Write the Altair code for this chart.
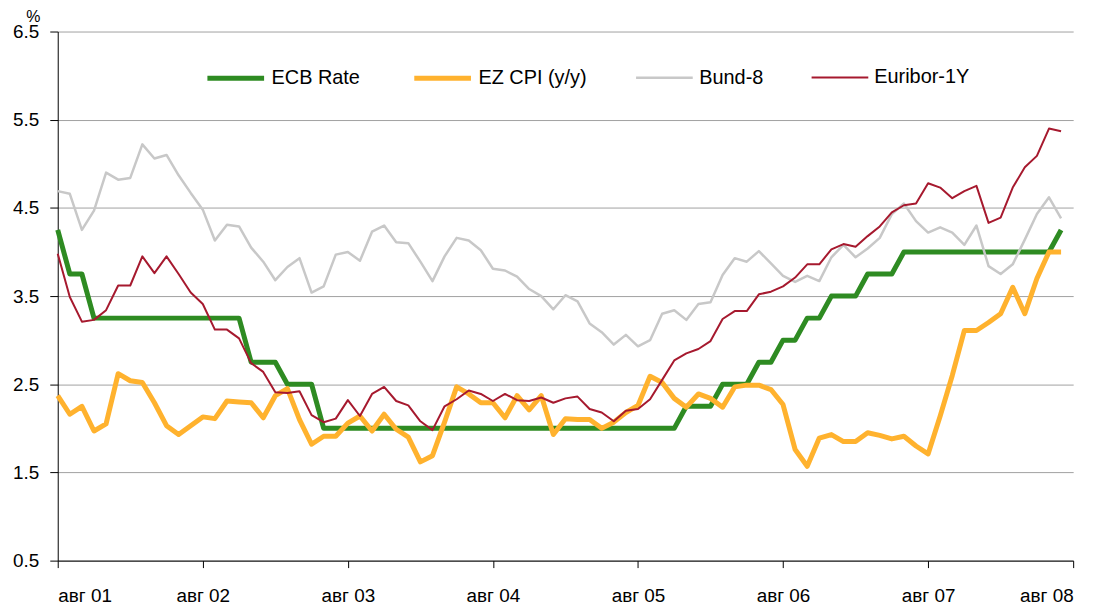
import altair as alt
import pandas as pd

series_names = ["ECB Rate", "EZ CPI (y/y)", "Bund-8", "Euribor-1Y"]
series_colors = ["#2E8B22", "#FFB22E", "#C8C8C8", "#A6192E"]
series_widths = [5, 5, 2.5, 2]

# monthly, Aug 2001 .. Jul 2008
ecb = [4.25, 3.75, 3.75,
       3.25, 3.25, 3.25, 3.25, 3.25, 3.25, 3.25, 3.25, 3.25, 3.25, 3.25, 3.25, 3.25,
       2.75, 2.75, 2.75, 2.5, 2.5, 2.5,
       2.0, 2.0, 2.0, 2.0, 2.0, 2.0, 2.0, 2.0, 2.0, 2.0, 2.0, 2.0, 2.0, 2.0, 2.0,
       2.0, 2.0, 2.0, 2.0, 2.0, 2.0, 2.0, 2.0, 2.0, 2.0, 2.0, 2.0, 2.0, 2.0, 2.0,
       2.25, 2.25, 2.25, 2.5, 2.5, 2.5, 2.75, 2.75, 3.0, 3.0, 3.25, 3.25,
       3.5, 3.5, 3.5, 3.75, 3.75, 3.75,
       4.0, 4.0, 4.0, 4.0, 4.0, 4.0, 4.0, 4.0, 4.0, 4.0, 4.0, 4.0, 4.0, 4.25]

cpi = [2.37, 2.16, 2.25, 1.97, 2.05, 2.62, 2.54, 2.52, 2.29, 2.03, 1.93, 2.03,
       2.13, 2.11, 2.31, 2.30, 2.29, 2.12, 2.37, 2.45, 2.10, 1.82, 1.91, 1.91,
       2.06, 2.14, 1.97, 2.16, 1.99, 1.90, 1.62, 1.69, 2.07, 2.47, 2.39, 2.29,
       2.29, 2.12, 2.37, 2.21, 2.37, 1.93, 2.11, 2.10, 2.10, 2.00, 2.07, 2.18,
       2.26, 2.59, 2.52, 2.34, 2.24, 2.39, 2.34, 2.24, 2.47, 2.49, 2.49, 2.44,
       2.27, 1.76, 1.57, 1.89, 1.93, 1.85, 1.85, 1.95, 1.92, 1.88, 1.91, 1.80,
       1.71, 2.14, 2.60, 3.11, 3.11, 3.20, 3.30, 3.60, 3.30, 3.70, 4.00, 4.00]

bund = [4.69, 4.66, 4.25, 4.47, 4.90, 4.82, 4.84, 5.22, 5.06, 5.10, 4.87, 4.67,
        4.48, 4.13, 4.31, 4.29, 4.05, 3.89, 3.68, 3.83, 3.93, 3.54, 3.61, 3.97,
        4.00, 3.90, 4.23, 4.30, 4.11, 4.10, 3.89, 3.67, 3.95, 4.16, 4.13, 4.02,
        3.81, 3.79, 3.72, 3.58, 3.50, 3.35, 3.51, 3.44, 3.19, 3.09, 2.95, 3.06,
        2.93, 3.00, 3.30, 3.34, 3.23, 3.41, 3.43, 3.74, 3.93, 3.89, 4.01, 3.87,
        3.73, 3.66, 3.73, 3.67, 3.94, 4.08, 3.94, 4.04, 4.16, 4.43, 4.55, 4.35,
        4.22, 4.28, 4.22, 4.08, 4.30, 3.84, 3.75, 3.86, 4.14, 4.43, 4.62, 4.38]

euribor = [3.98, 3.49, 3.21, 3.23, 3.34, 3.62, 3.62, 3.95, 3.76, 3.95, 3.75, 3.54,
           3.41, 3.12, 3.12, 3.02, 2.74, 2.64, 2.41, 2.40, 2.42, 2.15, 2.07, 2.11,
           2.32, 2.14, 2.39, 2.47, 2.31, 2.26, 2.08, 1.98, 2.25, 2.33, 2.43, 2.39,
           2.31, 2.39, 2.32, 2.31, 2.35, 2.29, 2.34, 2.36, 2.22, 2.18, 2.08, 2.20,
           2.22, 2.33, 2.55, 2.77, 2.85, 2.90, 2.99, 3.24, 3.33, 3.33, 3.52, 3.55,
           3.61, 3.71, 3.86, 3.86, 4.03, 4.09, 4.06, 4.18, 4.29, 4.45, 4.53, 4.55,
           4.78, 4.73, 4.61, 4.69, 4.75, 4.33, 4.39, 4.73, 4.96, 5.09, 5.40, 5.37]

x_tick_labels = ["авг 01", "авг 02", "авг 03", "авг 04", "авг 05", "авг 06", "авг 07", "авг 08"]
y_ticks = [0.5, 1.5, 2.5, 3.5, 4.5, 5.5, 6.5]

rows = []
for name, vals in zip(series_names, [ecb, cpi, bund, euribor]):
    for i, v in enumerate(vals):
        rows.append({"series": name, "m": i, "value": v})
df = pd.DataFrame(rows)

FONT = "Liberation Sans, Arial, sans-serif"
tick_vals = [12 * k for k in range(len(x_tick_labels))]
label_expr = "[" + ",".join("'%s'" % t for t in x_tick_labels) + "][round(datum.value / 12)]"


def legend():
    return alt.Legend(title=None, orient="none", legendX=148, legendY=16,
                      direction="horizontal", symbolType="stroke",
                      symbolSize=3249, labelOffset=5, columnPadding=44,
                      labelFontSize=20, labelFont=FONT, labelColor="#000000")


enc = dict(
    x=alt.X("m:Q", scale=alt.Scale(domain=[0, 84], nice=False, zero=False),
            axis=alt.Axis(values=tick_vals, labelExpr=label_expr, title=None, grid=False,
                          domainColor="#000000", tickColor="#000000", tickSize=7,
                          labelPadding=19, labelFontSize=19, labelColor="#000000",
                          labelFont=FONT)),
    y=alt.Y("value:Q", scale=alt.Scale(domain=[0.5, 6.5], nice=False, zero=False),
            axis=alt.Axis(values=y_ticks, format=".1f", title="%", titleAngle=0,
                          titleX=-25, titleY=-15, titleAlign="center", titleBaseline="middle",
                          titleFontSize=16, titleFontWeight="normal", titleFont=FONT,
                          titleColor="#000000",
                          grid=True, gridColor="#A0A0A0", gridWidth=1,
                          domainColor="#000000", tickColor="#000000", tickSize=8,
                          labelPadding=11, labelFontSize=19, labelColor="#000000",
                          labelFont=FONT)),
    color=alt.Color("series:N", scale=alt.Scale(domain=series_names, range=series_colors),
                    legend=legend()),
    strokeWidth=alt.StrokeWidth("series:N",
                                scale=alt.Scale(type="ordinal", domain=series_names,
                                                range=series_widths),
                                legend=legend()),
)

layers = [
    alt.Chart(df).transform_filter(alt.datum.series == n)
    .mark_line(strokeCap="butt", strokeJoin="round")
    .encode(**enc)
    for n in series_names
]

chart = alt.layer(*layers).properties(
    width=1021, height=532,
    autosize=alt.AutoSizeParams(type="none"),
    padding={"left": 50, "top": 22, "right": 30, "bottom": 50},
    background="white",
).configure_view(stroke=None).configure_axis(domainWidth=1, tickWidth=1)

chart.save("out.html", embed_options={"renderer": "svg", "actions": False})
